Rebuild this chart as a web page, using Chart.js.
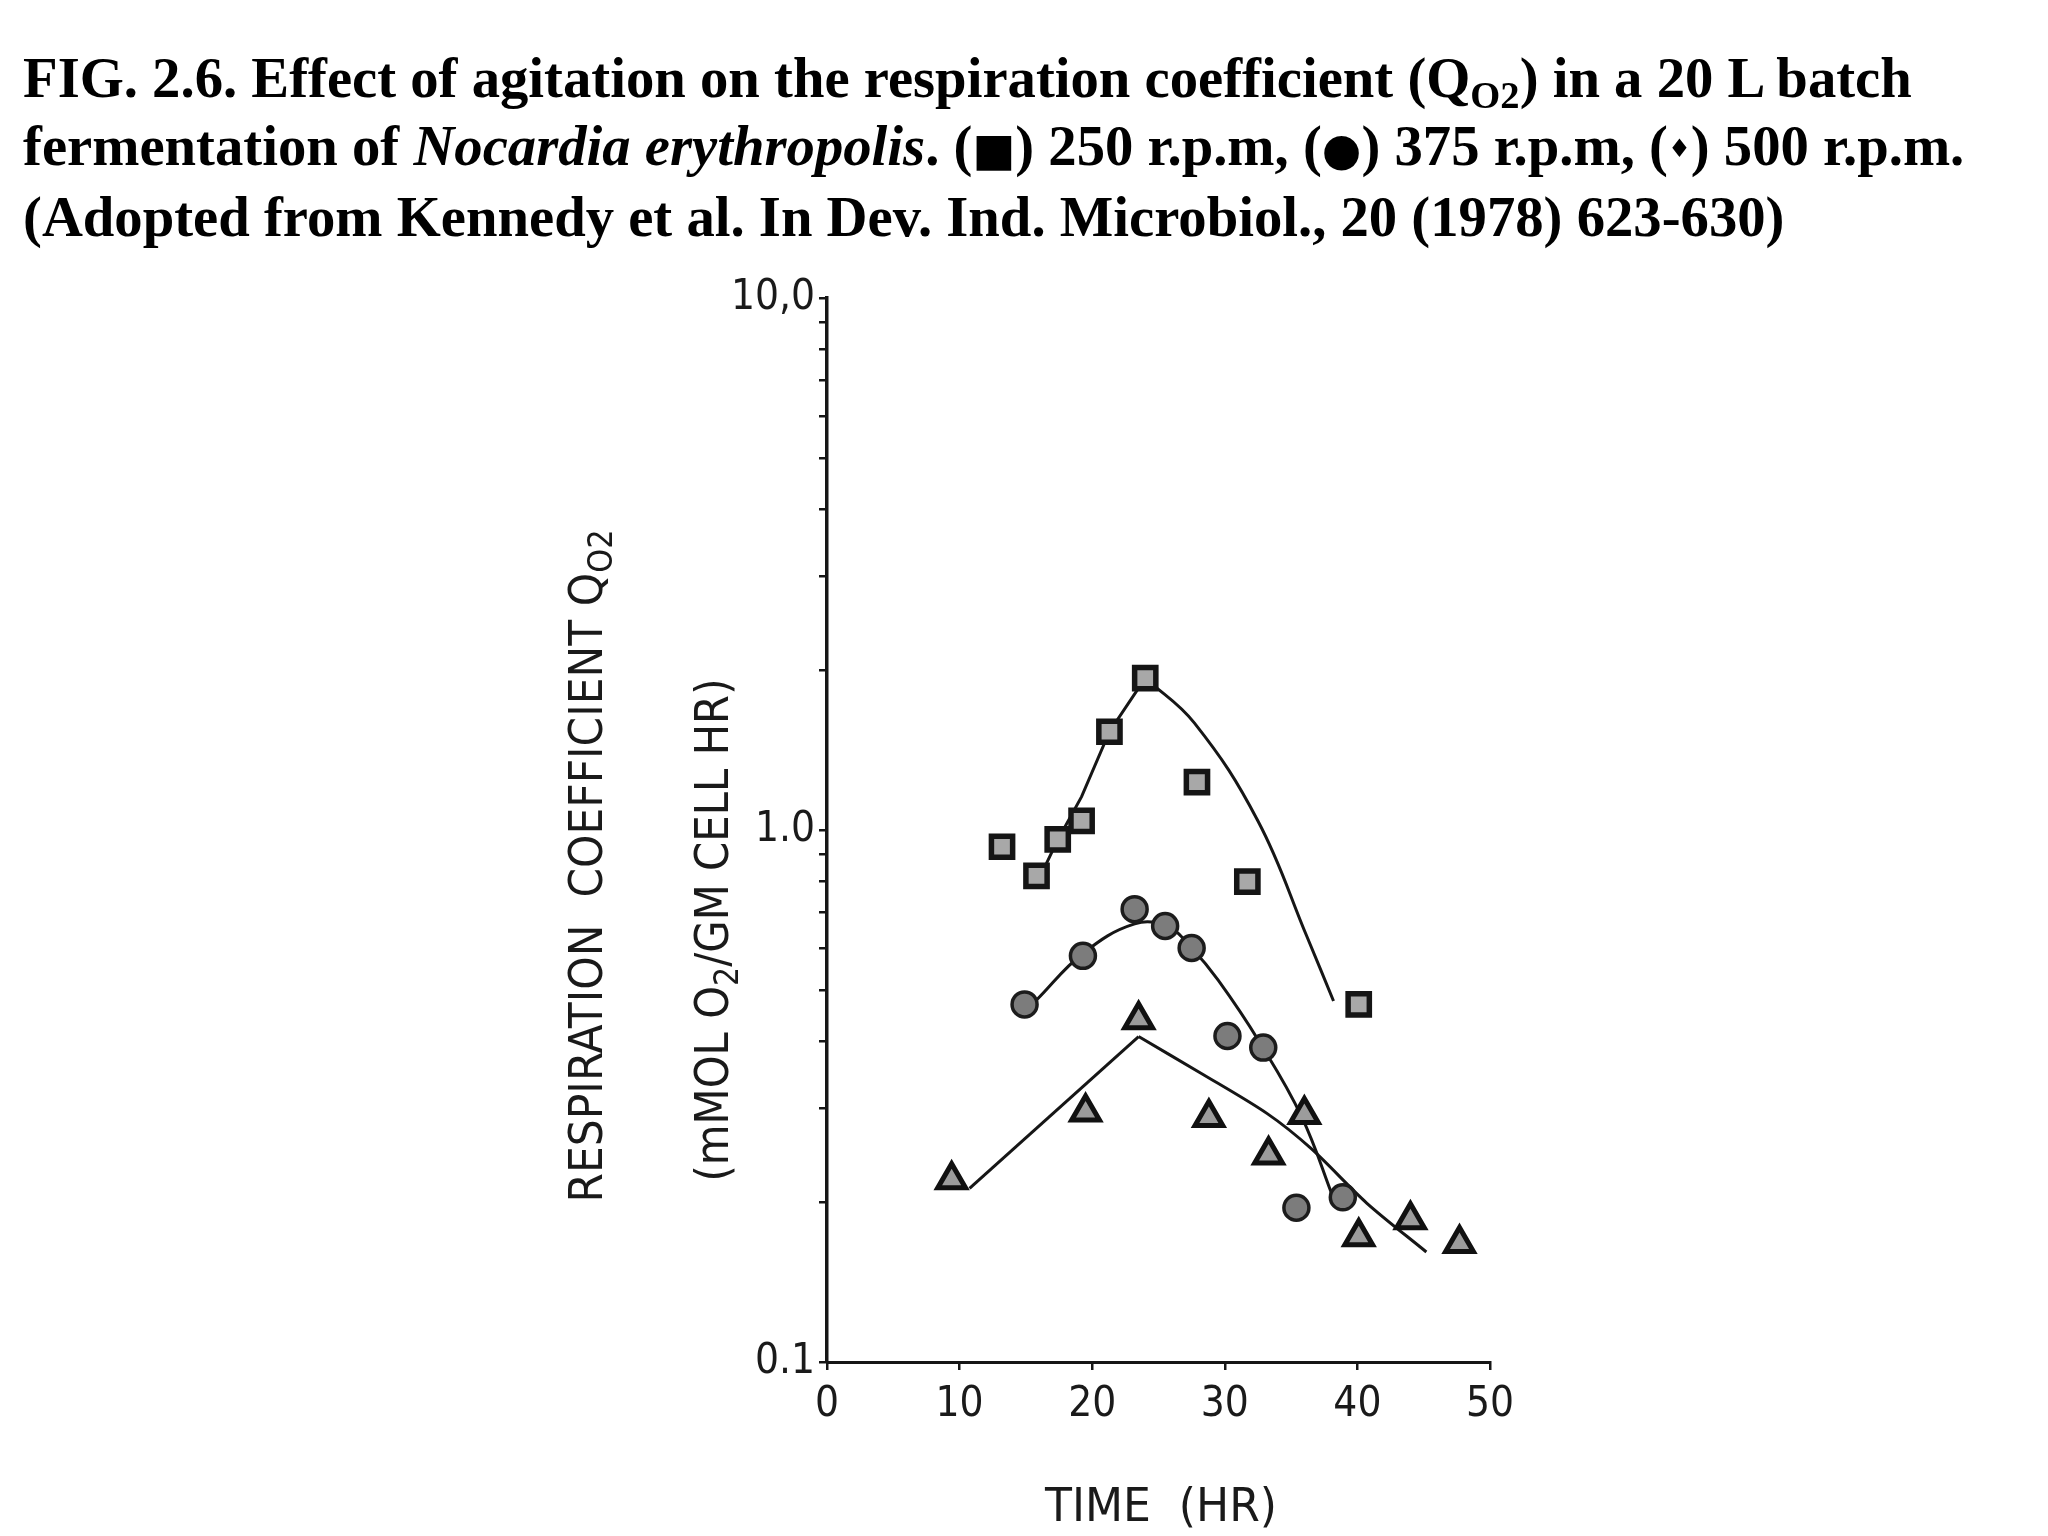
<!DOCTYPE html>
<html>
<head>
<meta charset="utf-8">
<script src="https://cdn.jsdelivr.net/npm/chart.js@4/dist/chart.umd.min.js"></script>
<style>
  html, body { margin: 0; padding: 0; background: #ffffff; }
  #wrap { position: relative; width: 2048px; height: 1536px; overflow: hidden; background: #fff; }
  #cv { position: absolute; left: 0; top: 0; }
  #title {
    position: absolute; left: 23px; top: 44px; width: 2020px;
    font-family: 'Liberation Serif', 'Times New Roman', serif; font-weight: bold;
    font-size: 56.7px; line-height: 67.5px; color: #000; white-space: nowrap;
  }
  #title sub { font-size: 0.68em; line-height: 0; vertical-align: -0.28em; }
  #title .sym { font-family: 'DejaVu Sans', sans-serif; font-size: 0.8em; }
  #title .dia { font-family: 'DejaVu Sans', sans-serif; font-size: 0.45em; vertical-align: 0.3em; }
</style>
</head>
<body>
<div id="wrap">
  <canvas id="cv" width="2048" height="1536"></canvas>
  <div id="title">FIG. 2.6. Effect of agitation on the respiration coefficient (Q<sub>O2</sub>) in a 20 L batch<br>fermentation of <i>Nocardia erythropolis</i>. (<span class="sym">■</span>) 250 r.p.m, (<span class="sym">●</span>) 375 r.p.m, (<span class="dia">♦</span>) 500 r.p.m.<br>(Adopted from Kennedy et al. In Dev. Ind. Microbiol., 20 (1978) 623-630)</div>
</div>
<script>
// ---------------- DATA ----------------
const seriesNames = ['250 r.p.m', '375 r.p.m', '500 r.p.m'];

// measured points (TIME hr, Q_O2)
const time250 = [13.2, 15.8, 17.4, 19.2, 21.3, 24.0, 27.9, 31.7, 40.1];
const q250    = [0.93, 0.82, 0.96, 1.04, 1.53, 1.93, 1.23, 0.80, 0.47];
const time375 = [14.9, 19.3, 23.2, 25.5, 27.5, 30.2, 32.9, 35.4, 38.9];
const q375    = [0.47, 0.58, 0.71, 0.66, 0.60, 0.41, 0.39, 0.195, 0.204];
const time500 = [9.4, 19.5, 23.5, 28.8, 33.3, 36.0, 40.1, 44.0, 47.7];
const q500    = [0.22, 0.295, 0.44, 0.288, 0.245, 0.292, 0.172, 0.185, 0.167];

// hand-drawn fitted curves
const fit250RiseT = [16.2, 17.4, 19.2, 21.3, 24.0];
const fit250RiseQ = [0.83, 0.958, 1.155, 1.53, 1.93];
const fit250FallT = [24.0, 27.7, 32.5, 36.2, 38.2];
const fit250FallQ = [1.93, 1.59, 1.04, 0.63, 0.477];
const fit375T = [15.8, 19.3, 23.2, 25.7, 27.5, 29.5, 32.6, 35.8, 38.2];
const fit375Q = [0.479, 0.586, 0.666, 0.658, 0.600, 0.522, 0.400, 0.289, 0.203];
const fit500RiseT = [10.75, 23.5];
const fit500RiseQ = [0.212, 0.409];
const fit500FallT = [23.5, 28.2, 33.2, 36.5, 40.7, 45.2];
const fit500FallQ = [0.409, 0.349, 0.293, 0.252, 0.199, 0.161];

// axes
const xMin = 0, xMax = 50, xStep = 10;
const xTickLabels = ['0', '10', '20', '30', '40', '50'];
const yMin = 0.1, yMax = 10;
const yMajorValues = [0.1, 1, 10];
const yMajorLabels = ['0.1', '1.0', '10,0'];
const yMinorMultipliers = [2, 3, 4, 5, 6, 7, 8, 9];
const yTitle1 = 'RESPIRATION  COEFFICIENT Q';
const yTitle1Sub = 'O2';
const yTitle2a = '(mMOL O';
const yTitle2Sub = '2';
const yTitle2b = '/GM CELL HR)';
const xTitle = 'TIME  (HR)';

// ---------------- BUILD ----------------
const pts = (xs, ys) => xs.map((x, i) => ({ x: x, y: ys[i] }));
const INK = '#161616';
const AXFONT = "'Liberation Sans Narrow', 'DejaVu Sans Condensed', 'Roboto Condensed', 'DejaVu Sans', sans-serif";

const lineDs = (xs, ys, tension) => ({
  type: 'scatter', data: pts(xs, ys), showLine: true, pointRadius: 0,
  borderColor: INK, borderWidth: 3, backgroundColor: 'transparent',
  tension: tension, order: 5
});

const datasets = [
  lineDs(fit250RiseT, fit250RiseQ, 0),
  lineDs(fit250FallT, fit250FallQ, 0.4),
  lineDs(fit375T, fit375Q, 0.4),
  lineDs(fit500RiseT, fit500RiseQ, 0),
  lineDs(fit500FallT, fit500FallQ, 0.3),
  { label: seriesNames[0], data: pts(time250, q250), pointStyle: 'rect', pointRadius: 15,
    backgroundColor: '#a8a8a8', borderColor: '#151515', borderWidth: 5.5, showLine: false, order: 1 },
  { label: seriesNames[1], data: pts(time375, q375), pointStyle: 'circle', pointRadius: 12.5,
    backgroundColor: '#7c7c7c', borderColor: '#1c1c1c', borderWidth: 3.5, showLine: false, order: 1 },
  { label: seriesNames[2], data: pts(time500, q500), pointStyle: 'triangle', pointRadius: 16,
    backgroundColor: '#9c9c9c', borderColor: '#111', borderWidth: 5, showLine: false, order: 1 }
];

const axisTitles = {
  id: 'axisTitles',
  afterDraw(chart) {
    const ctx = chart.ctx;
    const fs = 46;
    const fontMain = fs + 'px ' + AXFONT;
    const fontSub = Math.round(fs * 0.72) + 'px ' + AXFONT;
    function drawParts(parts, cx, baseline, targetLen, rotate) {
      ctx.save();
      let total = 0;
      parts.forEach(p => { ctx.font = p.sub ? fontSub : fontMain; p.w = ctx.measureText(p.t).width; total += p.w; });
      const s = targetLen / total;
      ctx.translate(rotate ? baseline : cx, rotate ? cx : baseline);
      if (rotate) ctx.rotate(-Math.PI / 2);
      ctx.scale(s, 1);
      ctx.fillStyle = '#1a1a1a';
      ctx.textBaseline = 'alphabetic';
      ctx.textAlign = 'left';
      let x = -total / 2;
      parts.forEach(p => {
        ctx.font = p.sub ? fontSub : fontMain;
        ctx.fillText(p.t, x, p.sub ? 10 : 0);
        x += p.w;
      });
      ctx.restore();
    }
    drawParts([{ t: yTitle1 }, { t: yTitle1Sub, sub: true }], 866, 602, 673, true);
    drawParts([{ t: yTitle2a }, { t: yTitle2Sub, sub: true }, { t: yTitle2b }], 930, 728, 503, true);
    drawParts([{ t: xTitle }], 1161, 1521, 232, false);
  }
};

new Chart(document.getElementById('cv'), {
  type: 'scatter',
  data: { datasets: datasets },
  options: {
    responsive: false, devicePixelRatio: 1, animation: false,
    layout: { padding: { left: 707, right: 558, top: 298, bottom: 74 } },
    plugins: { legend: { display: false }, title: { display: false }, tooltip: { enabled: false } },
    elements: { point: { hoverRadius: 0 } },
    clip: false,
    scales: {
      x: {
        type: 'linear', min: xMin, max: xMax,
        afterFit(scale) { scale.height = 100; },
        ticks: {
          stepSize: xStep, padding: 10, color: '#1a1a1a',
          font: { family: AXFONT, size: 42 },
          callback: (v) => { const i = Math.round((v - xMin) / xStep); return xTickLabels[i] !== undefined ? xTickLabels[i] : ''; },
          maxRotation: 0, autoSkip: false
        },
        grid: { display: true, drawOnChartArea: false, drawTicks: true, tickLength: 8, color: INK, lineWidth: 2.5 },
        border: { display: true, color: INK, width: 3 }
      },
      y: {
        type: 'logarithmic', min: yMin, max: yMax,
        afterFit(scale) { scale.width = 120; },
        afterBuildTicks(scale) {
          const t = [];
          yMajorValues.forEach((m, k) => {
            t.push({ value: m, major: true });
            if (k < yMajorValues.length - 1) yMinorMultipliers.forEach(mm => t.push({ value: m * mm }));
          });
          scale.ticks = t;
        },
        ticks: {
          padding: 4, color: '#1a1a1a', autoSkip: false,
          font: { family: AXFONT, size: 42 },
          callback: (v) => {
            const i = yMajorValues.findIndex(m => Math.abs(m - v) < 1e-9);
            return i >= 0 ? yMajorLabels[i] : '';
          }
        },
        grid: { display: true, drawOnChartArea: false, drawTicks: true, tickLength: 8, color: INK, lineWidth: 2.5 },
        border: { display: true, color: INK, width: 3.5 }
      }
    }
  },
  plugins: [axisTitles]
});
</script>
</body>
</html>
